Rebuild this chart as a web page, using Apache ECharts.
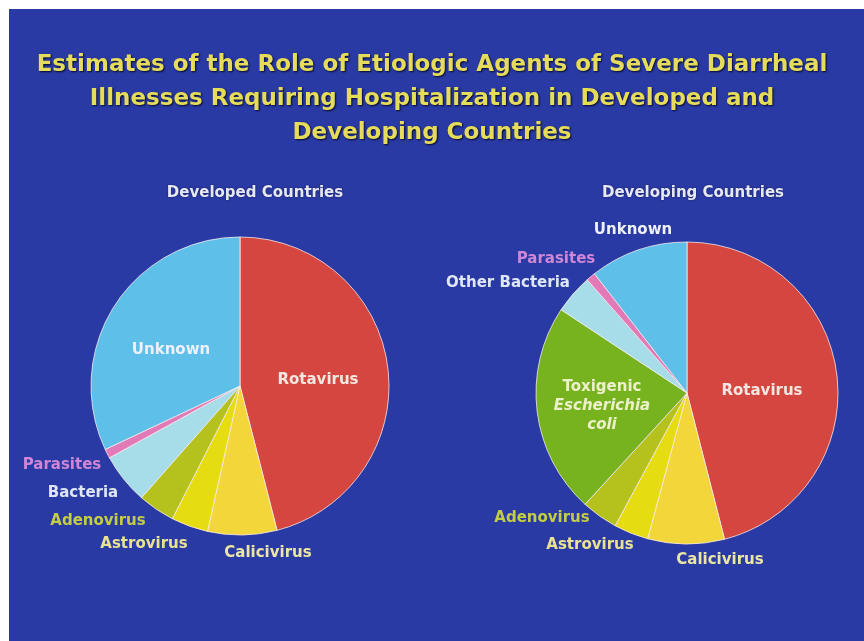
<!DOCTYPE html>
<html>
<head>
<meta charset="utf-8">
<script src="https://cdn.jsdelivr.net/npm/echarts@6/dist/echarts.min.js"></script>
<style>
html,body{margin:0;padding:0;background:#ffffff;}
#chart{position:absolute;left:9px;top:9px;width:855px;height:632px;}
</style>
</head>
<body>
<div id="chart"></div>
<script>
// ---- data ----
const titleLines = [
  'Estimates of the Role of Etiologic Agents of Severe Diarrheal',
  'Illnesses Requiring Hospitalization in Developed and',
  'Developing Countries'
];
const developedTitle = 'Developed Countries';
const developingTitle = 'Developing Countries';

const developedNames  = ['Rotavirus', 'Calicivirus', 'Astrovirus', 'Adenovirus', 'Bacteria', 'Parasites', 'Unknown'];
const developedValues = [46, 7.5, 4, 4, 5.5, 1, 32];

const developingNames  = ['Rotavirus', 'Calicivirus', 'Astrovirus', 'Adenovirus', 'Toxigenic Escherichia coli', 'Other Bacteria', 'Parasites', 'Unknown'];
const developingValues = [46, 8.2, 3.7, 3.9, 22.5, 4.2, 1, 10.5];

// ---- styles (not data) ----
const sliceColors = {
  'Rotavirus': '#d4463f',
  'Calicivirus': '#f3d63a',
  'Astrovirus': '#e6dc12',
  'Adenovirus': '#b5c11c',
  'Bacteria': '#a6dde8',
  'Other Bacteria': '#a6dde8',
  'Parasites': '#e27ab8',
  'Unknown': '#5ebfe9',
  'Toxigenic Escherichia coli': '#76b31f'
};
const labelColors = {
  'Rotavirus': '#f4e6e0',
  'Calicivirus': '#ece6a4',
  'Astrovirus': '#e8e292',
  'Adenovirus': '#c2cc44',
  'Bacteria': '#dfe6f6',
  'Other Bacteria': '#dfe6f6',
  'Parasites': '#cf86d6',
  'Unknown': '#eef0fa',
  'Toxigenic Escherichia coli': '#eef0cc'
};
// label anchor points (chart-local px), [x, y, align]
const developedLabelPos = {
  'Rotavirus': [309, 371, 'center'],
  'Calicivirus': [259, 544, 'center'],
  'Astrovirus': [135, 535, 'center'],
  'Adenovirus': [89, 512, 'center'],
  'Bacteria': [74, 484, 'center'],
  'Parasites': [53, 456, 'center'],
  'Unknown': [162, 341, 'center']
};
const developingLabelPos = {
  'Rotavirus': [753, 382, 'center'],
  'Calicivirus': [711, 551, 'center'],
  'Astrovirus': [581, 536, 'center'],
  'Adenovirus': [533, 509, 'center'],
  'Toxigenic Escherichia coli': [593, 397, 'center'],
  'Other Bacteria': [499, 274, 'center'],
  'Parasites': [547, 250, 'center'],
  'Unknown': [624, 221, 'center']
};

const FONT = '"DejaVu Sans", sans-serif';

function buildData(names, values) {
  return names.map((n, i) => ({
    name: n,
    value: values[i],
    itemStyle: { color: sliceColors[n] },
    label: { color: labelColors[n] }
  }));
}

function layoutFor(names, posMap) {
  return function (params) {
    const p = posMap[names[params.dataIndex]];
    return { x: p[0], y: p[1], align: p[2], verticalAlign: 'middle', hideOverlap: false, moveOverlap: null };
  };
}

const chart = echarts.init(document.getElementById('chart'), null, { renderer: 'canvas' });

const titleStyle = {
  color: '#e4dc5a',
  fontFamily: FONT,
  fontWeight: 'bold',
  fontSize: 23,
  lineHeight: 34,
  textShadowColor: 'rgba(0,0,20,0.85)',
  textShadowBlur: 2,
  textShadowOffsetX: 1,
  textShadowOffsetY: 1
};
const subStyle = {
  color: '#e6e8f4',
  fontFamily: FONT,
  fontWeight: 'bold',
  fontSize: 15,
  textShadowColor: 'rgba(0,0,30,0.6)',
  textShadowBlur: 2
};
const labelFontSize = 15;

const option = {
  backgroundColor: '#2a3aa4',
  animation: false,
  title: [
    { text: titleLines.join('\n'), left: 418, top: 34, textAlign: 'center', textStyle: titleStyle },
    { text: developedTitle, left: 241, top: 172, textAlign: 'center', textStyle: subStyle },
    { text: developingTitle, left: 679, top: 172, textAlign: 'center', textStyle: subStyle }
  ],
  series: [
    {
      type: 'pie',
      center: [231, 377],
      radius: 149,
      startAngle: 90,
      clockwise: true,
      avoidLabelOverlap: false,
      data: buildData(developedNames, developedValues),
      itemStyle: { borderColor: 'rgba(255,240,240,0.75)', borderWidth: 1 },
      label: {
        show: true,
        position: 'outside',
        fontFamily: FONT,
        fontWeight: 'bold',
        fontSize: labelFontSize,
        formatter: '{b}'
      },
      labelLine: { show: false },
      labelLayout: layoutFor(developedNames, developedLabelPos),
      emphasis: { disabled: true }
    },
    {
      type: 'pie',
      center: [678, 384],
      radius: 151,
      startAngle: 90,
      clockwise: true,
      avoidLabelOverlap: false,
      data: buildData(developingNames, developingValues),
      itemStyle: { borderColor: 'rgba(255,240,240,0.75)', borderWidth: 1 },
      label: {
        show: true,
        position: 'outside',
        fontFamily: FONT,
        fontWeight: 'bold',
        fontSize: labelFontSize,
        formatter: function (p) {
          if (p.name === 'Toxigenic Escherichia coli') {
            return 'Toxigenic\n{i|Escherichia}\n{i|coli}';
          }
          return p.name;
        },
        lineHeight: 19,
        rich: {
          i: { fontStyle: 'italic', fontWeight: 'bold', fontFamily: FONT, fontSize: labelFontSize, color: '#eef0cc', lineHeight: 19 }
        }
      },
      labelLine: { show: false },
      labelLayout: layoutFor(developingNames, developingLabelPos),
      emphasis: { disabled: true }
    }
  ]
};

chart.setOption(option);
</script>
</body>
</html>
